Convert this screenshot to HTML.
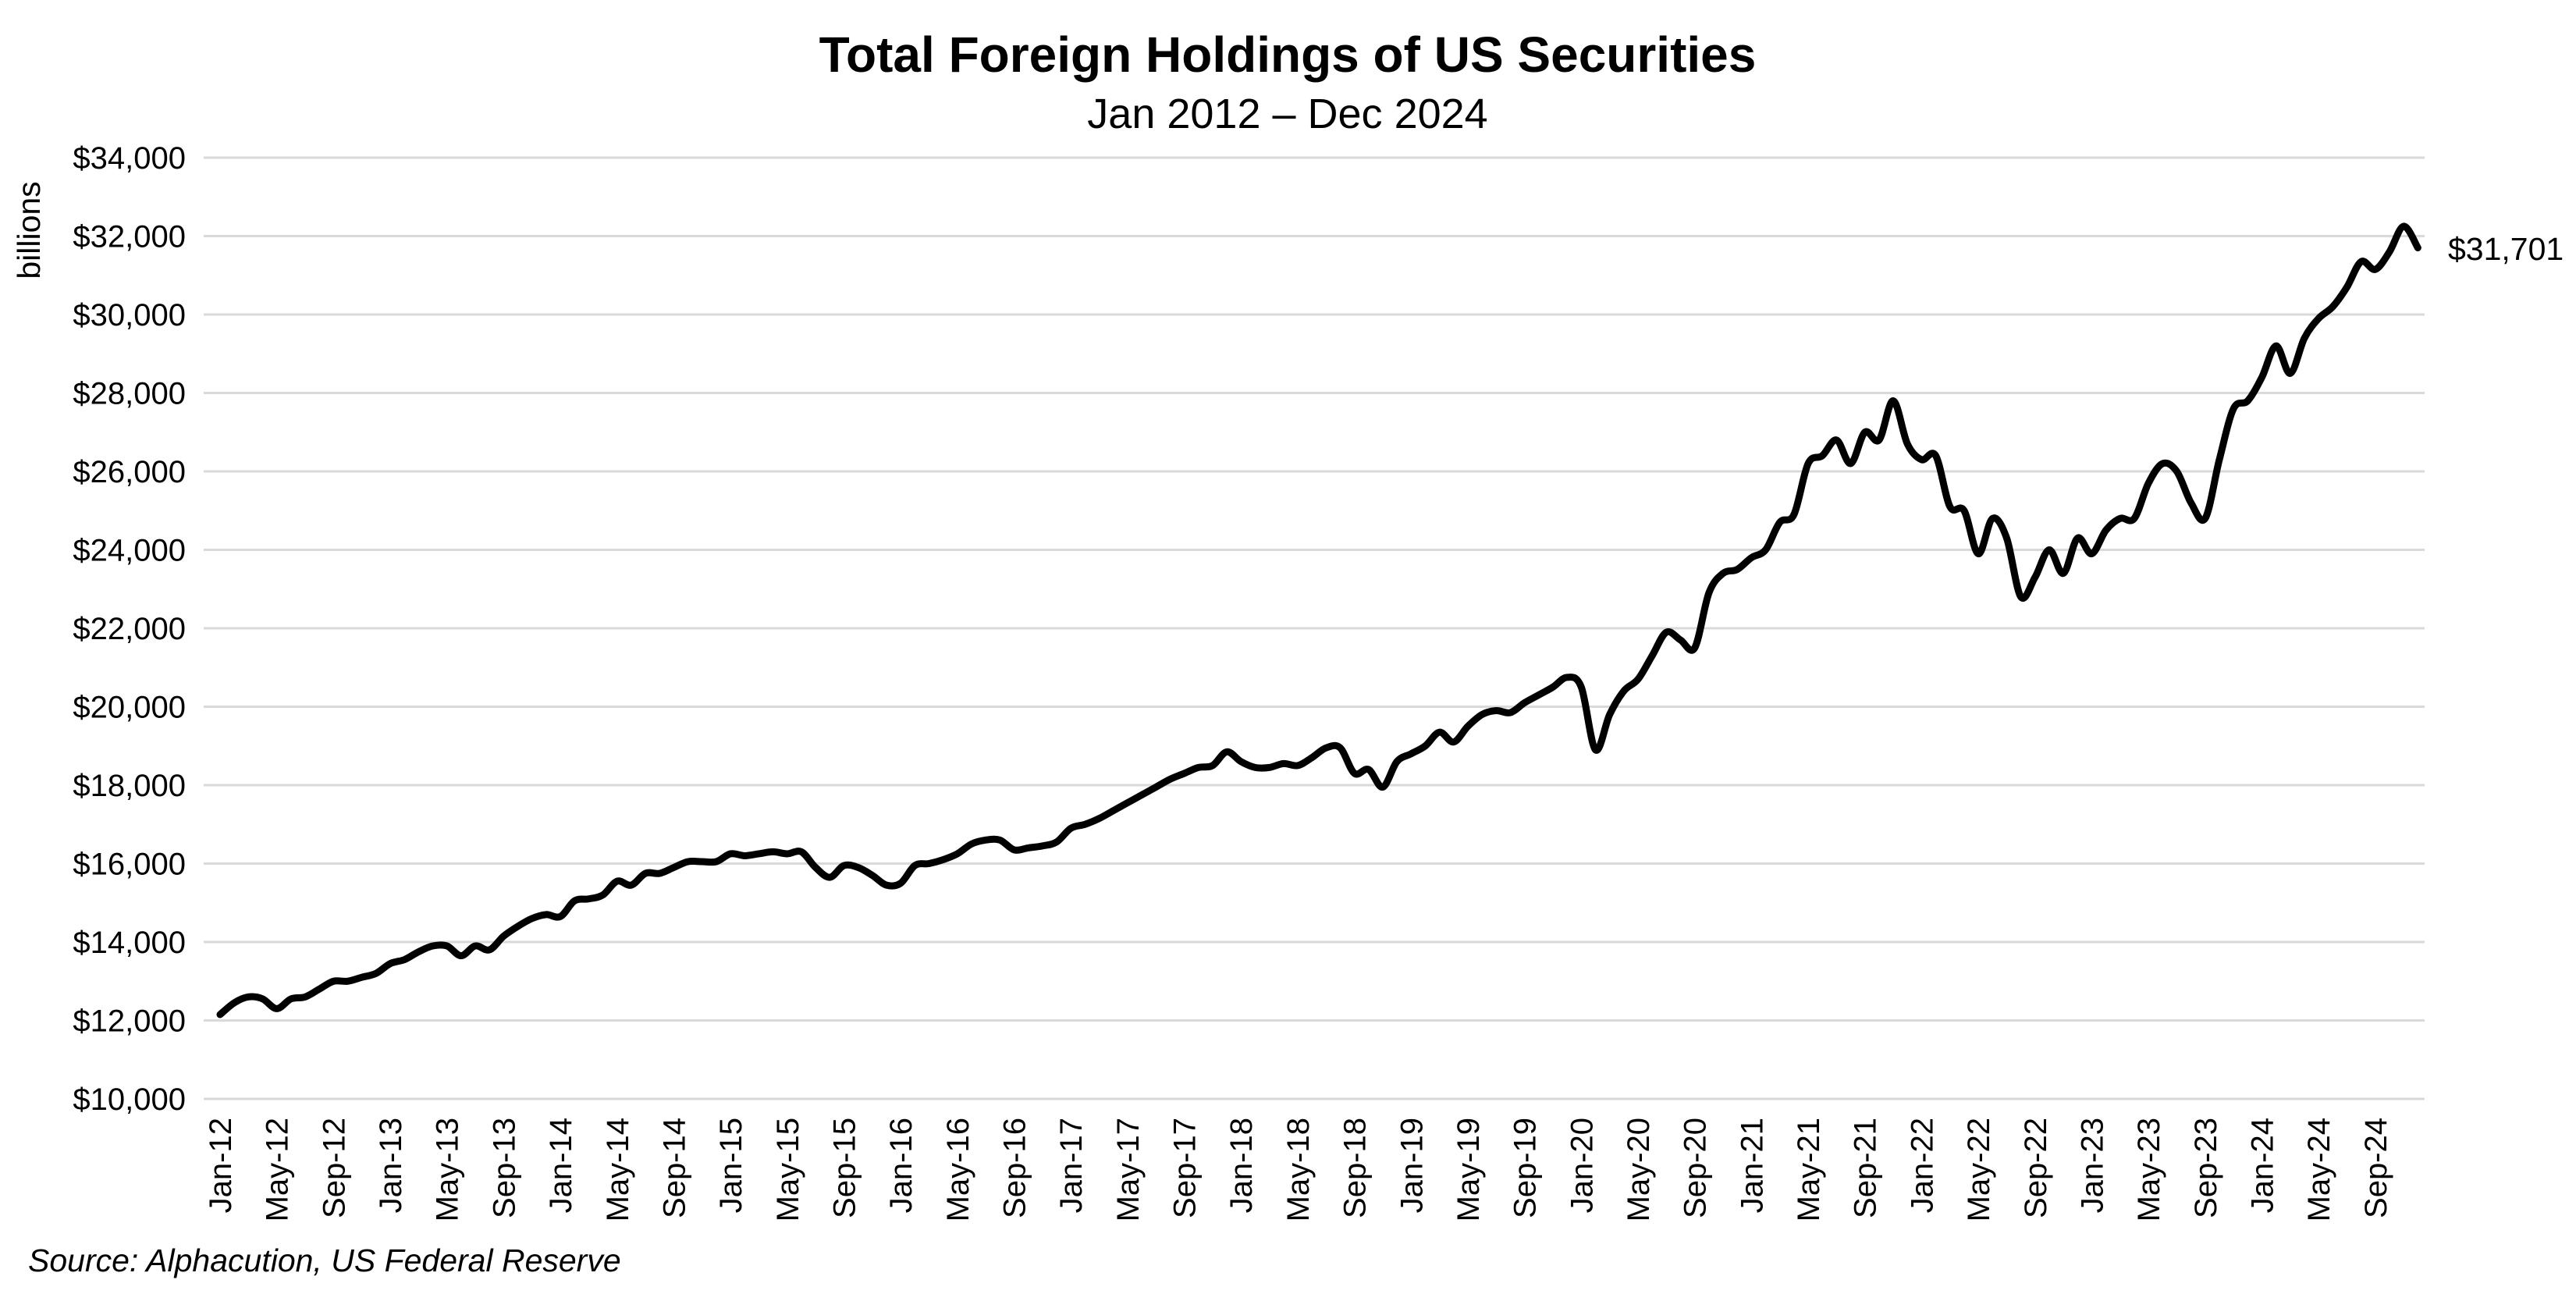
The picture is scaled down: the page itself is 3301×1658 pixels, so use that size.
<!DOCTYPE html>
<html><head><meta charset="utf-8"><style>
html,body{margin:0;padding:0;background:#fff;}
svg{display:block;font-family:"Liberation Sans",Arial,sans-serif;}
</style></head><body>
<svg id="c" width="3301" height="1658" viewBox="0 0 3301 1658" xmlns="http://www.w3.org/2000/svg">
<text x="1650" y="92" text-anchor="middle" font-size="64" font-weight="bold">Total Foreign Holdings of US Securities</text>
<text x="1650" y="164" text-anchor="middle" font-size="54">Jan 2012 – Dec 2024</text>
<text transform="translate(51,295) rotate(-90)" text-anchor="middle" font-size="41">billions</text>
<g id="grid"></g>
<g id="xl"></g>
<path id="line" fill="none" stroke="#000" stroke-width="9" stroke-linejoin="round" stroke-linecap="round"/>
<text x="3137" y="333" font-size="41">$31,701</text>
<text x="36" y="1629" font-size="41" font-style="italic">Source: Alphacution, US Federal Reserve</text>
</svg>
<script>
var d=[12150,12450,12600,12550,12300,12550,12600,12800,13000,13000,13100,13200,
13450,13550,13750,13900,13900,13650,13900,13800,14150,14400,14600,14700,
14650,15050,15100,15200,15550,15450,15750,15750,15900,16050,16050,16050,
16250,16200,16250,16300,16250,16300,15900,15650,15950,15900,15700,15450,
15500,15950,16000,16100,16250,16500,16600,16600,16350,16400,16450,16550,
16900,17000,17150,17350,17550,17750,17950,18150,18300,18450,18500,18850,
18600,18450,18450,18550,18500,18700,18950,18950,18300,18400,17950,18600,
18800,19000,19350,19100,19500,19800,19900,19850,20100,20300,20500,20750,
20500,18900,19800,20400,20700,21300,21900,21700,21500,22900,23400,23500,
23800,24000,24700,24900,26200,26400,26800,26200,27000,26800,27800,26700,
26300,26400,25100,25000,23900,24800,24300,22800,23300,24000,23400,24300,
23900,24500,24800,24800,25700,26200,26000,25200,24800,26300,27600,27800,
28400,29200,28500,29400,29900,30200,30700,31350,31150,31600,32250,31701];
var NS="http://www.w3.org/2000/svg";
function Y(v){return 1408-(v-10000)*100.5/2000;}
function X(i){return 282+i*18.17;}
var g=document.getElementById('grid');
for(var v=10000;v<=34000;v+=2000){
 var l=document.createElementNS(NS,'line');
 l.setAttribute('x1',261);l.setAttribute('x2',3107);l.setAttribute('y1',Y(v));l.setAttribute('y2',Y(v));
 l.setAttribute('stroke','#d9d9d9');l.setAttribute('stroke-width','3');g.appendChild(l);
 var t=document.createElementNS(NS,'text');
 t.setAttribute('x',238);t.setAttribute('y',Y(v)+14);t.setAttribute('text-anchor','end');t.setAttribute('font-size','40');
 t.textContent='$'+(v/1000)+',000';g.appendChild(t);
}
var mo=['Jan','May','Sep'],xl=document.getElementById('xl');
for(var i=0;i<156;i+=4){
 var yr=12+Math.floor(i/12),m=mo[(i%12)/4];
 var t=document.createElementNS(NS,'text');
 t.setAttribute('transform','translate('+(X(i)+14)+',1432) rotate(-90)');
 t.setAttribute('text-anchor','end');t.setAttribute('font-size','40');
 t.textContent=m+'-'+yr;xl.appendChild(t);
}
var p=d.map(function(v,i){return [X(i),Y(v)];});
var s='M'+p[0][0]+','+p[0][1];
for(var i=0;i<p.length-1;i++){
 var p0=p[i>0?i-1:i],p1=p[i],p2=p[i+1],p3=p[i+2<p.length?i+2:i+1];
 var c1x=p1[0]+(p2[0]-p0[0])/6,c1y=p1[1]+(p2[1]-p0[1])/6;
 var c2x=p2[0]-(p3[0]-p1[0])/6,c2y=p2[1]-(p3[1]-p1[1])/6;
 s+=' C'+c1x+','+c1y+' '+c2x+','+c2y+' '+p2[0]+','+p2[1];
}
document.getElementById('line').setAttribute('d',s);
</script>
</body></html>
